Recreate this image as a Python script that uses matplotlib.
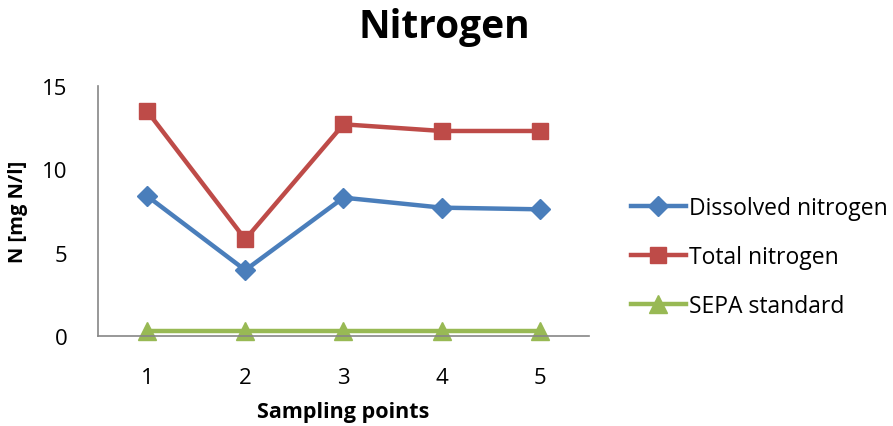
import matplotlib
matplotlib.use('Agg')
import matplotlib.pyplot as plt

points = [1, 2, 3, 4, 5]
dissolved = [8.4, 3.95, 8.3, 7.7, 7.6]
total = [13.5, 5.8, 12.7, 12.3, 12.3]
sepa = [0.3, 0.3, 0.3, 0.3, 0.3]

plt.rcParams['font.family'] = ['Open Sans', 'DejaVu Sans']

fig = plt.figure(figsize=(8.93, 4.27), dpi=100)
ax = fig.add_axes([0.1097, 0.2108, 0.5499, 0.5855])

ax.plot(points, dissolved, color='#4a7ebb', lw=3.2, marker='D', ms=10,
        label='Dissolved nitrogen')
ax.plot(points, total, color='#be4b48', lw=3.2, marker='s', ms=12,
        label='Total nitrogen')
ax.plot(points, sepa, color='#98b954', lw=3.2, marker='^', ms=13,
        label='SEPA standard', clip_on=False)

ax.set_xlim(0.5, 5.5)
ax.set_ylim(0, 15)
ax.set_yticks([0, 5, 10, 15])
ax.set_xticks(points)
ax.tick_params(length=0, labelsize=16)
ax.tick_params(axis='x', pad=22)
ax.tick_params(axis='y', pad=22)
for s in ['top', 'right']:
    ax.spines[s].set_visible(False)
for s in ['left', 'bottom']:
    ax.spines[s].set_color('#868686')
    ax.spines[s].set_linewidth(1.2)

ax.set_xlabel('Sampling points', fontsize=15.5, fontweight='bold', labelpad=10)
ax.set_ylabel('N [mg N/l]', fontsize=14.5, fontweight='bold', labelpad=10)
fig.text(0.498, 0.935, 'Nitrogen', ha='center', va='center', fontsize=28,
         fontweight='bold')

ax.legend(loc='center left', bbox_to_anchor=(1.085, 0.316), frameon=False,
          fontsize=16.5, handlelength=2.4, handletextpad=0.15,
          labelspacing=1.1, borderpad=0, borderaxespad=0)

fig.savefig('out.png', dpi=100)
